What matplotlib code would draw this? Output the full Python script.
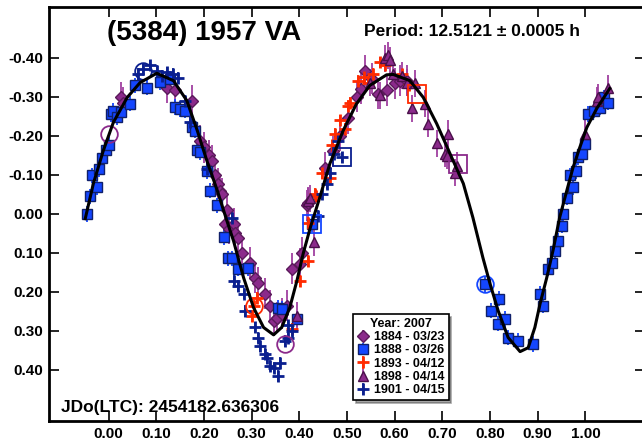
import matplotlib
matplotlib.use("Agg")
import matplotlib.pyplot as plt

plt.rcParams['font.family'] = ['Liberation Sans', 'DejaVu Sans']
plt.rcParams['font.weight'] = 'bold'

# fitted curve (phase, mag)
fit_ph = [-0.049, -0.032, -0.011, 0.010, 0.039, 0.066, 0.101, 0.136, 0.164, 0.186,
          0.206, 0.228, 0.248, 0.262, 0.283, 0.304, 0.325, 0.346, 0.363, 0.380,
          0.395, 0.408, 0.423, 0.443, 0.464, 0.492, 0.520, 0.548, 0.583, 0.597,
          0.632, 0.660, 0.688, 0.716, 0.744, 0.764, 0.785, 0.800, 0.817, 0.838,
          0.863, 0.880, 0.894, 0.905, 0.919, 0.932, 0.946, 0.961, 0.974, 0.988,
          1.003, 1.024, 1.051]
fit_mag = [0.013, -0.077, -0.162, -0.234, -0.298, -0.336, -0.360, -0.341, -0.290, -0.213,
           -0.136, -0.059, 0.018, 0.070, 0.164, 0.241, 0.292, 0.311, 0.292, 0.241,
           0.172, 0.103, 0.036, -0.042, -0.128, -0.213, -0.282, -0.329, -0.356, -0.357,
           -0.341, -0.298, -0.231, -0.154, -0.077, 0.010, 0.113, 0.180, 0.249, 0.318,
           0.354, 0.344, 0.292, 0.231, 0.164, 0.095, 0.010, -0.059, -0.118, -0.169,
           -0.221, -0.270, -0.321]

# 1884 - 03/23 (diamonds)
d_ph = [0.025, 0.030, 0.123, 0.140, 0.175, 0.192, 0.200, 0.210, 0.217, 0.224,
        0.230, 0.234, 0.238, 0.245, 0.248, 0.252, 0.262, 0.266, 0.272, 0.280,
        0.297, 0.307, 0.314, 0.328, 0.339, 0.346, 0.353, 0.363, 0.374, 0.384,
        0.401, 0.405, 0.416, 0.419, 0.454, 0.470, 0.485, 0.503, 0.520, 0.530,
        0.538, 0.552, 0.565, 0.583, 0.601, 0.611, 0.625]
d_mag = [-0.298, -0.285, -0.323, -0.316, -0.290, -0.187, -0.170, -0.150, -0.136, -0.100,
         -0.077, -0.059, -0.051, 0.026, -0.008, 0.039, 0.026, 0.051, 0.062, 0.100,
         0.126, 0.164, 0.177, 0.205, 0.236, 0.275, 0.267, 0.257, 0.236, 0.141,
         0.128, 0.100, -0.021, -0.026, -0.118, -0.160, -0.200, -0.244, -0.300, -0.320,
         -0.367, -0.346, -0.308, -0.316, -0.334, -0.341, -0.341]

# 1888 - 03/26 (squares)
s_ph = [-0.045, -0.040, -0.034, -0.024, -0.021, -0.014, -0.005, 0.000, 0.004, 0.010,
        0.018, 0.025, 0.045, 0.056, 0.080, 0.108, 0.129, 0.140, 0.150, 0.161,
        0.175, 0.182, 0.185, 0.192, 0.206, 0.213, 0.227, 0.241, 0.251, 0.259,
        0.272, 0.293, 0.356, 0.363, 0.395, 0.427, 0.789, 0.803, 0.817, 0.819,
        0.832, 0.838, 0.859, 0.890, 0.905, 0.911, 0.922, 0.929, 0.936, 0.942,
        0.950, 0.954, 0.961, 0.967, 0.974, 0.980, 0.985, 0.992, 0.999, 1.005,
        1.017, 1.030, 1.040, 1.047]
s_mag = [0.001, -0.044, -0.098, -0.068, -0.115, -0.143, -0.162, -0.176, -0.256, -0.264,
         -0.247, -0.260, -0.282, -0.329, -0.323, -0.337, -0.346, -0.273, -0.269, -0.264,
         -0.222, -0.213, -0.162, -0.157, -0.110, -0.059, -0.021, 0.061, 0.115, 0.115,
         0.141, 0.139, 0.241, 0.244, 0.270, 0.026, 0.180, 0.249, 0.282, 0.218,
         0.270, 0.318, 0.326, 0.334, 0.205, 0.236, 0.141, 0.126, 0.095, 0.069,
         0.031, 0.000, -0.041, -0.098, -0.068, -0.110, -0.144, -0.154, -0.179, -0.256,
         -0.264, -0.272, -0.298, -0.285]

# 1893 - 04/12 (red plus)
r_ph = [0.300, 0.304, 0.311, 0.385, 0.402, 0.419, 0.419, 0.433, 0.436, 0.448,
        0.465, 0.469, 0.475, 0.486, 0.495, 0.503, 0.507, 0.524, 0.535, 0.545,
        0.555, 0.569, 0.580, 0.615, 0.630]
r_mag = [0.262, 0.236, 0.216, 0.295, 0.172, 0.121, 0.023, -0.051, -0.046, -0.105,
         -0.092, -0.175, -0.205, -0.239, -0.218, -0.277, -0.285, -0.341, -0.350, -0.335,
         -0.359, -0.388, -0.380, -0.359, -0.330]

# 1898 - 04/14 (triangles)
t_ph = [0.395, 0.419, 0.423, 0.430, 0.548, 0.569, 0.580, 0.587, 0.590, 0.597,
        0.615, 0.625, 0.636, 0.642, 0.664, 0.670, 0.688, 0.706, 0.709, 0.712,
        0.727, 0.730, 0.999, 1.024, 1.026, 1.047]
t_mag = [0.262, -0.033, -0.039, 0.074, -0.336, -0.303, -0.398, -0.406, -0.393, -0.359,
         -0.354, -0.336, -0.270, -0.334, -0.282, -0.231, -0.180, -0.154, -0.149, -0.205,
         -0.105, -0.123, -0.205, -0.290, -0.298, -0.321]

# 1901 - 04/15 (navy plus)
n_ph = [0.062, 0.073, 0.087, 0.101, 0.112, 0.122, 0.136, 0.146, 0.161, 0.171,
        0.206, 0.259, 0.262, 0.272, 0.283, 0.287, 0.307, 0.314, 0.318, 0.328,
        0.332, 0.339, 0.346, 0.356, 0.360, 0.370, 0.377, 0.377, 0.384, 0.440,
        0.448, 0.458, 0.465, 0.472, 0.482, 0.490]
n_mag = [-0.359, -0.372, -0.380, -0.367, -0.354, -0.362, -0.359, -0.349, -0.290, -0.234,
         -0.115, 0.010, 0.172, 0.185, 0.205, 0.249, 0.292, 0.318, 0.339, 0.359,
         0.370, 0.390, 0.395, 0.416, 0.382, 0.326, 0.318, 0.287, 0.300, 0.005,
         -0.051, -0.077, -0.103, -0.154, -0.187, -0.144]

# highlighted first points of sessions
circ_ph = [0.000, 0.073, 0.304, 0.370, 0.789]
circ_mag = [-0.205, -0.367, 0.236, 0.334, 0.180]
circ_col = ['#8b2a8b', '#0a1f8f', '#ff2a00', '#8b2a8b', '#1446ff']
box_ph = [0.427, 0.490, 0.647, 0.733]
box_mag = [0.026, -0.144, -0.308, -0.128]
box_col = ['#1446ff', '#0a1f8f', '#ff2a00', '#8b2a8b']

xticks = [0.0, 0.1, 0.2, 0.3, 0.4, 0.5, 0.6, 0.7, 0.8, 0.9, 1.0]
yticks = [-0.4, -0.3, -0.2, -0.1, 0.0, 0.1, 0.2, 0.3, 0.4]

fig = plt.figure(figsize=(6.42, 4.44), dpi=100)
ax = fig.add_axes([49 / 642, 23 / 444, 596 / 642, 414 / 444])

ax.errorbar(d_ph, d_mag, yerr=0.04, fmt='D', ms=6, color='#8b2a8b', mec='#5a1a5a',
            ecolor='#a040a0', elinewidth=1.3, capsize=0, label='1884 - 03/23', zorder=3)
ax.errorbar(s_ph, s_mag, yerr=0.02, fmt='s', ms=7.5, color='#1446ff', mec='#10206a',
            ecolor='#1446ff', elinewidth=1.3, capsize=0, label='1888 - 03/26', zorder=3)
ax.errorbar(r_ph, r_mag, yerr=0.015, fmt='+', ms=9, mew=2, color='#ff2a00',
            ecolor='#ff2a00', elinewidth=1.2, capsize=0, label='1893 - 04/12', zorder=3)
ax.errorbar(t_ph, t_mag, yerr=0.035, fmt='^', ms=6.5, color='#8b2a8b', mec='#4a104a',
            ecolor='#a040a0', elinewidth=1.3, capsize=0, label='1898 - 04/14', zorder=3)
ax.errorbar(n_ph, n_mag, yerr=0.015, fmt='+', ms=9, mew=2, color='#0a1f8f',
            ecolor='#0a1f8f', elinewidth=1.2, capsize=0, label='1901 - 04/15', zorder=3)

for px, py, c in zip(circ_ph, circ_mag, circ_col):
    ax.plot(px, py, 'o', ms=12, mfc='none', mec=c, mew=1.3, zorder=4)
for px, py, c in zip(box_ph, box_mag, box_col):
    ax.plot(px, py, 's', ms=13, mfc='none', mec=c, mew=1.3, zorder=4)

ax.plot(fit_ph, fit_mag, color='black', lw=2.2, zorder=5)

ax.set_xlim(-0.125, 1.125)
ax.set_ylim(0.532, -0.530)
ax.set_xticks(xticks)
ax.set_xticklabels(['%.2f' % v for v in xticks])
ax.set_yticks(yticks)
ax.set_yticklabels(['%.2f' % v for v in yticks])
ax.tick_params(direction='in', length=7, width=1.2, labelsize=11, pad=4,
               top=True, right=True)
for lab in ax.get_xticklabels() + ax.get_yticklabels():
    lab.set_fontweight('bold')
for sp in ax.spines.values():
    sp.set_linewidth(2)

leg = ax.legend(loc='upper left', bbox_to_anchor=(0.51, 0.258), borderaxespad=0,
                title='Year: 2007', frameon=True, fancybox=False, shadow=True,
                edgecolor='black', prop={'size': 9, 'weight': 'bold'},
                title_fontproperties={'size': 9, 'weight': 'bold'},
                handlelength=1.0, handletextpad=0.4, labelspacing=0.1,
                borderpad=0.3, numpoints=1)
leg.get_frame().set_linewidth(1.2)

fig.text(107 / 642, 1 - 33 / 444, '(5384) 1957 VA', fontsize=20, fontweight='bold',
         va='center', ha='left')
fig.text(364 / 642, 1 - 31 / 444, 'Period: 12.5121 \u00b1 0.0005 h', fontsize=12.5,
         fontweight='bold', va='center', ha='left')
fig.text(61 / 642, 1 - 407 / 444, 'JDo(LTC): 2454182.636306', fontsize=12.5,
         fontweight='bold', va='center', ha='left')

fig.savefig('out.png', dpi=100)
